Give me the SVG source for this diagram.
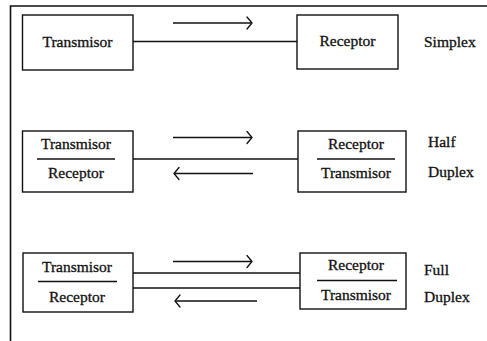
<svg xmlns="http://www.w3.org/2000/svg" width="487" height="341" viewBox="0 0 487 341" font-family="'Liberation Serif', 'Times New Roman', serif">
  <style>
    .frame { fill: none; stroke: #111; stroke-width: 1.6; }
    .box { fill: #fff; stroke: #111; stroke-width: 1.4; }
    .rule { stroke: #111; stroke-width: 1.3; }
    .wire { stroke: #111; stroke-width: 1.4; fill: none; }
    .dir { stroke: #111; stroke-width: 1.3; fill: none; }
    .head { stroke: #111; stroke-width: 1.3; fill: none; stroke-linecap: round; stroke-linejoin: round; }
    text { font-family: 'Liberation Serif', 'Times New Roman', serif; font-size: 15.5px; fill: #111; stroke: #111; stroke-width: 0.3; }
    .c { text-anchor: middle; }
  </style>
  <rect width="487" height="341" fill="#fff"/>

  <!-- outer frame (open to the right and bottom) -->
  <path class="frame" d="M487 6 H10.5 V341"/>

  <!-- connectors -->
  <g id="connectors">
    <!-- simplex -->
    <line class="wire" x1="133" y1="41.5" x2="297" y2="41.5"/>
    <line class="dir" x1="173" y1="23" x2="251" y2="23"/>
    <path class="head" d="M247 17 L252 23 L247 29"/>
    <!-- half duplex -->
    <line class="wire" x1="133" y1="159" x2="298" y2="159"/>
    <line class="dir" x1="173" y1="137.5" x2="251" y2="137.5"/>
    <path class="head" d="M247 131.5 L252 137.5 L247 143.5"/>
    <line class="dir" x1="175" y1="173.5" x2="253" y2="173.5"/>
    <path class="head" d="M179 167.5 L174 173.5 L179 179.5"/>
    <!-- full duplex -->
    <line class="wire" x1="133" y1="273" x2="300" y2="273"/>
    <line class="wire" x1="133" y1="288" x2="300" y2="288"/>
    <line class="dir" x1="173" y1="261.5" x2="251" y2="261.5"/>
    <path class="head" d="M247 255.5 L252 261.5 L247 267.5"/>
    <line class="dir" x1="176" y1="301" x2="257" y2="301"/>
    <path class="head" d="M180 295 L175 301 L180 307"/>
  </g>

  <!-- simplex row -->
  <g id="tx-simplex">
    <rect class="box" x="22.5" y="15" width="110.5" height="55"/>
    <text class="c" x="77.5" y="47">Transmisor</text>
  </g>
  <g id="rx-simplex">
    <rect class="box" x="297" y="15" width="101" height="54"/>
    <text class="c" x="347.5" y="46">Receptor</text>
  </g>
  <g id="label-simplex">
    <text x="424" y="47">Simplex</text>
  </g>

  <!-- half duplex row -->
  <g id="left-half">
    <rect class="box" x="22.5" y="131" width="110.5" height="61"/>
    <text class="c" x="76" y="149">Transmisor</text>
    <line class="rule" x1="37" y1="159" x2="115" y2="159"/>
    <text class="c" x="76" y="178">Receptor</text>
  </g>
  <g id="right-half">
    <rect class="box" x="298" y="131" width="108" height="61"/>
    <text class="c" x="356" y="149">Receptor</text>
    <line class="rule" x1="317" y1="159" x2="395" y2="159"/>
    <text class="c" x="356" y="178">Transmisor</text>
  </g>
  <g id="label-half">
    <text x="428" y="147">Half</text>
    <text x="428" y="177">Duplex</text>
  </g>

  <!-- full duplex row -->
  <g id="left-full">
    <rect class="box" x="23" y="253" width="110" height="59"/>
    <text class="c" x="77" y="272">Transmisor</text>
    <line class="rule" x1="38" y1="281.5" x2="117" y2="281.5"/>
    <text class="c" x="77" y="302">Receptor</text>
  </g>
  <g id="right-full">
    <rect class="box" x="300" y="253" width="106" height="56"/>
    <text class="c" x="356" y="270">Receptor</text>
    <line class="rule" x1="317" y1="280.5" x2="397" y2="280.5"/>
    <text class="c" x="356" y="300">Transmisor</text>
  </g>
  <g id="label-full">
    <text x="424" y="275">Full</text>
    <text x="424" y="302">Duplex</text>
  </g>
</svg>
